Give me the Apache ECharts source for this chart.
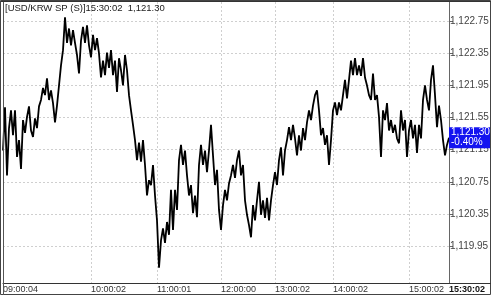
<!DOCTYPE html>
<html>
<head>
<meta charset="utf-8">
<script src="https://cdn.jsdelivr.net/npm/echarts@6/dist/echarts.min.js"></script>
<style>
html,body{margin:0;padding:0;background:#fff;}
#c{width:492px;height:296px;}
</style>
</head>
<body>
<div id="c"></div>
<script>
// ---- data ----
const titleText = '[USD/KRW SP (S)]15:30:02  1,121.30';
const lastPrice = 1121.30;
const changePct = '-0.40%';
const tickLabels = ['09:00:04', '10:00:02', '11:00:01', '12:00:00', '13:00:02', '14:00:02', '15:00:02', '15:30:02'];
const tickLabelIndex = [0, 44, 77, 109, 136, 165, 203, 223];
const gridLineIndex = [44, 77, 109, 136, 165, 203];
const yTickValues = [1119.95, 1120.35, 1120.75, 1121.15, 1121.55, 1121.95, 1122.35, 1122.75];
const prices = [
1121.14,1121.68,1120.83,1121.42,1121.64,1121.33,1121.64,1121.06,1121.27,1120.91,
1121.52,1121.36,1121.56,1121.69,1121.39,1121.31,1121.54,1121.42,1121.69,1121.77,
1121.92,1121.83,1122.04,1121.77,1121.89,1121.73,1121.49,1121.70,1121.95,1122.20,
1122.39,1122.80,1122.48,1122.66,1122.45,1122.64,1122.48,1122.33,1122.10,1122.51,
1122.68,1122.48,1122.70,1122.45,1122.30,1122.58,1122.39,1122.54,1122.35,1122.05,
1122.26,1122.08,1122.36,1122.17,1122.39,1122.08,1122.26,1121.87,1122.29,1122.14,
1121.95,1122.33,1122.14,1121.83,1121.64,1121.46,1121.27,1121.02,1121.24,1121.00,
1121.27,1120.96,1120.58,1120.77,1120.71,1120.96,1120.58,1120.27,1119.68,1120.02,
1120.17,1119.99,1120.25,1120.09,1120.65,1120.15,1120.65,1120.40,1121.02,1121.21,
1120.96,1121.14,1120.83,1120.58,1120.71,1120.36,1120.58,1120.31,1120.96,1121.21,
1120.96,1121.14,1120.87,1121.14,1121.46,1121.08,1120.71,1120.90,1120.40,1120.15,
1120.46,1120.65,1120.52,1120.73,1120.83,1120.96,1120.80,1121.02,1121.14,1120.83,
1120.96,1120.52,1120.34,1120.21,1120.06,1120.46,1120.27,1120.52,1120.75,1120.34,
1120.52,1120.30,1120.55,1120.27,1120.52,1120.71,1120.87,1120.71,1121.02,1121.18,
1120.83,1121.14,1121.27,1121.43,1121.27,1121.46,1121.29,1121.08,1121.33,1121.14,
1121.42,1121.27,1121.49,1121.64,1121.52,1121.70,1121.83,1121.89,1121.64,1121.33,
1121.42,1121.21,1121.33,1120.96,1121.27,1121.64,1121.74,1121.58,1121.74,1121.64,
1121.83,1122.02,1121.79,1122.02,1122.26,1122.08,1122.29,1122.08,1122.20,1122.07,
1122.29,1122.05,1121.95,1121.83,1121.77,1122.10,1121.77,1121.83,1121.56,1121.06,
1121.64,1121.52,1121.73,1121.39,1121.52,1121.36,1121.46,1121.29,1121.23,1121.64,
1121.39,1121.52,1121.06,1121.39,1121.52,1121.29,1121.46,1121.11,1121.46,1121.29,
1121.77,1121.95,1121.77,1121.64,1122.02,1122.20,1121.83,1121.43,1121.70,1121.52,
1121.27,1121.08,1121.21,1121.30
];

// categories built from tick labels
const categories = prices.map((_, i) => {
  const k = tickLabelIndex.indexOf(i);
  return k >= 0 ? tickLabels[k] : '';
});

function fmtPrice(v) {
  const s = v.toFixed(2);
  const parts = s.split('.');
  return parts[0].replace(/\B(?=(\d{3})+(?!\d))/g, ',') + '.' + parts[1];
}

const FONT = 'Liberation Sans, Arial, sans-serif';
const chart = echarts.init(document.getElementById('c'), null, {renderer: 'canvas'});
chart.setOption({
  animation: false,
  backgroundColor: '#fff',
  grid: {left: 3, right: 43, top: 2, bottom: 13, containLabel: false},
  xAxis: {
    type: 'category',
    data: categories,
    boundaryGap: false,
    axisLine: {show: true, lineStyle: {color: '#333', width: 1}},
    axisTick: {show: false},
    axisLabel: {
      interval: (idx) => tickLabelIndex.indexOf(idx) >= 0,
      align: 'left',
      margin: 2,
      fontSize: 9,
      fontFamily: FONT,
      color: '#333',
      formatter: (v, idx) => idx === prices.length - 1 ? '{b|' + v + '}' : v,
      rich: {b: {fontWeight: 'bold', fontSize: 9, fontFamily: FONT, color: '#111'}}
    },
    splitLine: {
      show: true,
      interval: (idx) => gridLineIndex.indexOf(idx) >= 0,
      lineStyle: {color: '#cfcfcf', type: [2, 2], width: 1}
    }
  },
  yAxis: {
    type: 'value',
    position: 'right',
    min: 1119.49,
    max: 1122.99,
    axisLine: {show: true, lineStyle: {color: '#666'}},
    axisTick: {show: true, inside: false, length: 4, customValues: yTickValues, lineStyle: {color: '#666'}},
    axisLabel: {
      customValues: yTickValues,
      margin: 1,
      fontSize: 10,
      fontFamily: FONT,
      color: '#444',
      formatter: (v) => fmtPrice(v)
    },
    splitLine: {show: true, lineStyle: {color: '#cfcfcf', type: [2, 2], width: 1}}
  },
  series: [{
    type: 'line',
    data: prices,
    symbol: 'none',
    lineStyle: {color: '#000', width: 1.8},
    silent: true,
    markLine: {
      silent: true,
      symbol: 'none',
      lineStyle: {color: 'rgba(0,0,0,0)', width: 1, type: 'solid'},
      data: [{yAxis: lastPrice}],
      label: {
        show: true,
        position: 'end',
        distance: 0,
        formatter: () => fmtPrice(lastPrice) + '\n' + changePct,
        color: '#fff',
        backgroundColor: '#1414f0',
        padding: [1, 1, 0, 2],
        fontSize: 10,
        lineHeight: 10,
        fontFamily: FONT,
        align: 'left',
        width: 38
      }
    }
  }],
  graphic: [
    {type: 'text', left: 5, top: 3, style: {text: titleText, fontSize: 9.5, fontFamily: FONT, fill: '#222'}, z: 10},
    {type: 'rect', shape: {x: 0.5, y: 0.5, width: 490, height: 294}, style: {fill: null, stroke: '#444', lineWidth: 1}, z: 10},
    {type: 'line', shape: {x1: 3.5, y1: 1, x2: 3.5, y2: 295}, style: {stroke: '#555', lineWidth: 1}, z: 10},
    {type: 'line', shape: {x1: 1, y1: 1.5, x2: 491, y2: 1.5}, style: {stroke: '#333', lineWidth: 1}, z: 10},
    {type: 'line', shape: {x1: 449, y1: 283.5, x2: 491, y2: 283.5}, style: {stroke: '#333', lineWidth: 1}, z: 10}
  ]
});
</script>
</body>
</html>
